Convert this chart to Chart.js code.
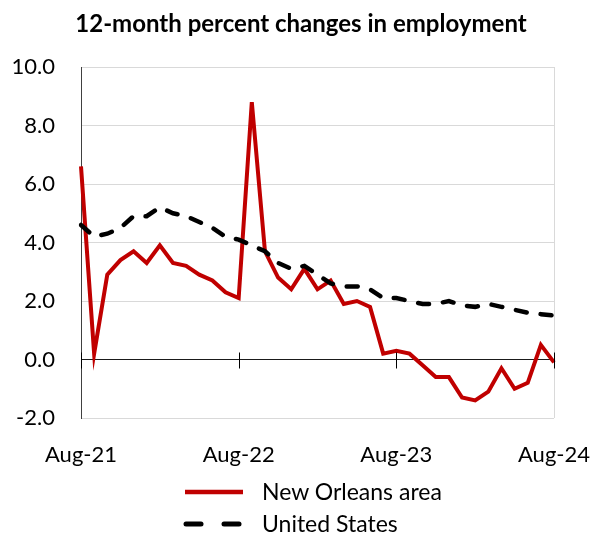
<!DOCTYPE html>
<html>
<head>
<meta charset="utf-8">
<script src="https://cdn.jsdelivr.net/npm/chart.js@4"></script>
<style>
  body { margin: 0; background: #fff; }
  #wrap { position: relative; width: 594px; height: 537px; }
  #legend { position: absolute; left: 0; top: 0; width: 594px; height: 537px; pointer-events: none; }
  .lab { position: absolute; left: 262px; font: 23px Lato, "Open Sans", sans-serif; color: #000; line-height: 28px; }
  #title { position: absolute; left: 4px; top: 8px; width: 594px; text-align: center;
           font: bold 24px Lato, "Open Sans", sans-serif; line-height: 29px; color: #000; }
</style>
</head>
<body>
<div id="wrap">
  <canvas id="empChart" width="594" height="537"></canvas>
  <div id="title">12-month percent changes in employment</div>
  <svg id="legend" width="594" height="537">
    <line x1="185" y1="492" x2="243" y2="492" stroke="#c00000" stroke-width="4.5" />
    <line x1="186" y1="524" x2="201" y2="524" stroke="#000" stroke-width="5" stroke-linecap="round" />
    <line x1="224" y1="524" x2="239" y2="524" stroke="#000" stroke-width="5" stroke-linecap="round" />
  </svg>
  <div class="lab" style="top:477px">New Orleans area</div>
  <div class="lab" style="top:509px">United States</div>
</div>
<script>
const months = ["Aug-21","Sep-21","Oct-21","Nov-21","Dec-21","Jan-22","Feb-22","Mar-22","Apr-22","May-22","Jun-22","Jul-22",
  "Aug-22","Sep-22","Oct-22","Nov-22","Dec-22","Jan-23","Feb-23","Mar-23","Apr-23","May-23","Jun-23","Jul-23",
  "Aug-23","Sep-23","Oct-23","Nov-23","Dec-23","Jan-24","Feb-24","Mar-24","Apr-24","May-24","Jun-24","Jul-24","Aug-24"];

const newOrleans = [6.6, 0.2, 2.9, 3.4, 3.7, 3.3, 3.9, 3.3, 3.2, 2.9, 2.7, 2.3,
  2.1, 8.8, 3.7, 2.8, 2.4, 3.1, 2.4, 2.7, 1.9, 2.0, 1.8, 0.2,
  0.3, 0.2, -0.2, -0.6, -0.6, -1.3, -1.4, -1.1, -0.3, -1.0, -0.8, 0.5, -0.1];

const unitedStates = [4.6, 4.2, 4.3, 4.5, 4.9, 4.9, 5.2, 5.0, 4.9, 4.7, 4.5, 4.2,
  4.1, 3.9, 3.7, 3.3, 3.1, 3.2, 2.9, 2.6, 2.5, 2.5, 2.4, 2.1,
  2.1, 2.0, 1.9, 1.9, 2.0, 1.85, 1.8, 1.9, 1.8, 1.7, 1.6, 1.55, 1.5];

const yMin = -2, yMax = 10, yStep = 2;
const fontFam = "Lato, 'Open Sans', sans-serif";

// small tick marks crossing the zero line at each year
const zeroTicks = {
  id: "zeroTicks",
  afterDatasetsDraw(chart) {
    const { ctx, scales: { x, y } } = chart;
    const y0 = y.getPixelForValue(0);
    ctx.save();
    ctx.strokeStyle = "#000";
    ctx.lineWidth = 1;
    [0, 12, 24, 36].forEach(i => {
      const px = Math.round(x.getPixelForValue(i)) + 0.5;
      ctx.beginPath();
      ctx.moveTo(px, y0 - 7);
      ctx.lineTo(px, y0 + 9);
      ctx.stroke();
    });
    ctx.restore();
  }
};

new Chart(document.getElementById("empChart"), {
  type: "line",
  data: {
    labels: months,
    datasets: [
      {
        label: "United States",
        data: unitedStates,
        borderColor: "#000",
        borderWidth: 4.5,
        borderDash: [11, 14],
        borderCapStyle: "round",
        pointRadius: 0,
        tension: 0
      },
      {
        label: "New Orleans area",
        data: newOrleans,
        borderColor: "#c00000",
        borderWidth: 4,
        pointRadius: 0,
        tension: 0
      }
    ]
  },
  options: {
    responsive: false,
    animation: false,
    layout: { padding: { left: 0, right: 40, top: 67, bottom: 69 } },
    plugins: {
      legend: { display: false },
      tooltip: { enabled: false },
      title: { display: false }
    },
    scales: {
      x: {
        offset: false,
        afterFit(scale) {
          scale.height = 50;
          scale.paddingLeft = 0;
          scale.paddingRight = 0;
        },
        border: { display: false },
        grid: {
          drawTicks: false,
          color: ctx => ctx.index === 36 ? "#d9d9d9" : "rgba(0,0,0,0)"
        },
        ticks: {
          autoSkip: false,
          maxRotation: 0,
          padding: 24,
          color: "#000",
          font: { family: fontFam, size: 22 },
          callback: (v, i) => i % 12 === 0 ? months[i] : ""
        }
      },
      y: {
        min: yMin,
        max: yMax,
        afterFit(scale) {
          scale.width = 81;
          scale.paddingTop = 0;
          scale.paddingBottom = 0;
        },
        border: { display: true, color: "#404040", width: 1 },
        grid: {
          drawTicks: false,
          color: ctx => ctx.tick && ctx.tick.value === 0 ? "#1a1a1a" : "#d9d9d9",
          lineWidth: 1
        },
        ticks: {
          stepSize: yStep,
          padding: 26,
          color: "#000",
          font: { family: fontFam, size: 22 },
          callback: v => v.toFixed(1)
        }
      }
    }
  },
  plugins: [zeroTicks]
});
</script>
</body>
</html>
